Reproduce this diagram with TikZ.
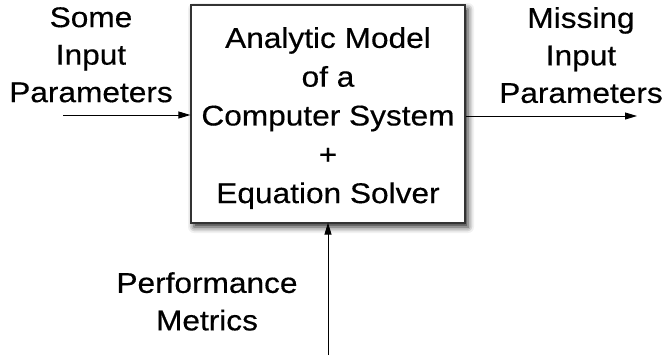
\documentclass[tikz,border=0pt]{standalone}
\usepackage{fontspec}
\setmainfont{Liberation Sans}[FakeStretch=1.11,FakeBold=0.4]
\usetikzlibrary{arrows.meta,shadows.blur}
\begin{document}
\begin{tikzpicture}[x=1pt,y=-1pt,
  lbl/.style={align=center,inner sep=0pt,anchor=north,
    font=\fontsize{28.5}{37.5}\selectfont},
  boxtxt/.style={align=center,inner sep=0pt,anchor=north,
    font=\fontsize{28.5}{38.8}\selectfont},
  modelbox/.style={draw=black!80,line width=1.2pt,fill=white,
    minimum width=274pt,minimum height=218pt,inner sep=0pt,
    blur shadow={shadow xshift=3pt,shadow yshift=-4pt,
      shadow blur radius=6pt,shadow opacity=85}},
  arr/.style={-{Triangle[length=12pt,width=7pt]},line width=0.9pt}]
\useasboundingbox (0,0) rectangle (664,362);
\node[modelbox] (box) at (328,114) {};
\node[boxtxt] (model) at (328,27) {Analytic Model\\of a\\Computer System\\+\\Equation Solver};
\node[lbl] (inlbl) at (91,7) {Some\\Input\\Parameters};
\node[lbl] (outlbl) at (581,7) {Missing\\Input\\Parameters};
\node[lbl] (perf) at (207,272) {Performance\\Metrics};
\coordinate (inl) at (63,115);
\coordinate (outr) at (637,116);
\coordinate (pm) at (328,355);
\draw[arr] (inl) -- (inl -| box.west);
\draw[arr] (box.east |- outr) -- (outr);
\draw[arr,shorten >=-1pt] (pm) -- (box.south);
\end{tikzpicture}
\end{document}
